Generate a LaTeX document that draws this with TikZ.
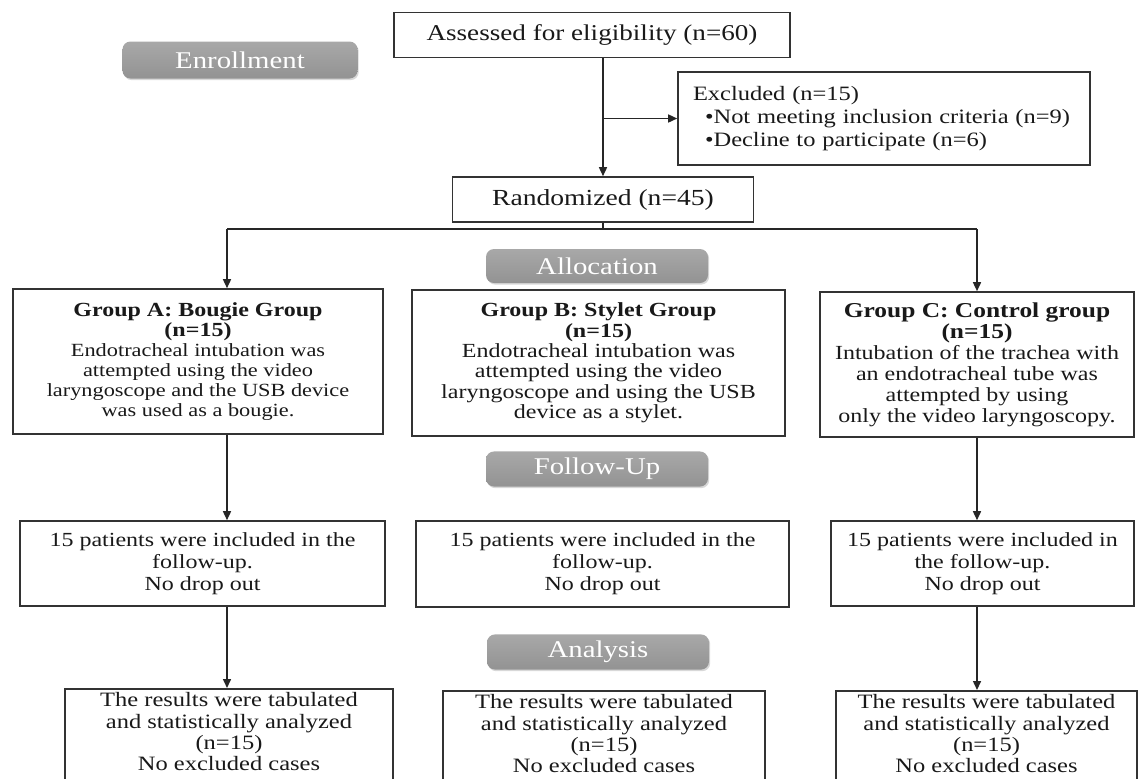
\documentclass[tikz,border=0pt]{standalone}
\usepackage{fontspec}
\setmainfont{Liberation Serif}[FakeStretch=1.2]
\usetikzlibrary{arrows.meta, positioning, shadows}
\newcommand{\grptitle}[2]{{\fontsize{#1}{#1}\selectfont\bfseries #2}}

\begin{document}
\begin{tikzpicture}[
  x=0.5pt, y=-0.5pt,
  font=\fontsize{10}{11}\selectfont,
  box/.style={draw=black!80, line width=0.8pt, align=center, inner sep=2pt, text=black!90},
  stage/.style={rounded corners=4pt, top color=gray!68, bottom color=gray!85, text=white,
    minimum width=111pt, minimum height=17pt, font=\fontsize{12}{12}\selectfont,
    drop shadow={opacity=0.3, shadow xshift=0.6pt, shadow yshift=-0.8pt}},
  arrow/.style={-{Triangle[length=4.5pt, width=4pt]}, line width=0.75pt, black!85},
  line/.style={line width=0.75pt, black!85}
]
  \useasboundingbox (0,0) rectangle (1139,778);
  \clip (0,0) rectangle (1139,778);
  \fill[white] (0,0) rectangle (1139,778);

  % stage labels
  \node[stage, minimum width=117.5pt, minimum height=18.5pt] (enroll) at (240,60) {Enrollment};
  \node[stage] (alloc) at (597,266) {Allocation};
  \node[stage] (follow) at (597,469) {Follow-Up};
  \node[stage] (analysis) at (598,652) {Analysis};

  % enrollment
  \node[box, minimum width=198pt, minimum height=22.5pt, font=\fontsize{11.3}{12}\selectfont]
    (assess) at (592,35) {Assessed for eligibility (n=60)};
  \node[box, minimum width=150.5pt, minimum height=22.5pt, font=\fontsize{11.5}{12}\selectfont]
    (rand) at (603,199.5) {Randomized (n=45)};
  \node[box, align=left, text width=191pt, inner xsep=7.5pt, minimum height=46.5pt,
    font=\fontsize{10.2}{11.5}\selectfont] (excl) at (884,118.5)
    {Excluded (n=15)\\\hspace*{6pt}•Not meeting inclusion criteria (n=9)\\\hspace*{6pt}•Decline to participate (n=6)};

  % allocation
  \node[box, minimum width=185pt, minimum height=72.5pt, font=\fontsize{9.3}{10}\selectfont] (grpA) at (198,361.5)
    {\grptitle{10}{Group A: Bougie Group}\\\grptitle{10}{(n=15)}\\Endotracheal intubation was\\attempted using the video\\laryngoscope and the USB device\\was used as a bougie.};
  \node[box, minimum width=186.5pt, minimum height=73pt, font=\fontsize{10}{10.2}\selectfont] (grpB) at (598.5,363)
    {\grptitle{10}{Group B: Stylet Group}\\\grptitle{10}{(n=15)}\\Endotracheal intubation was\\attempted using the video\\laryngoscope and using the USB\\device as a stylet.};
  \node[box, minimum width=157pt, minimum height=72.5pt, font=\fontsize{10}{10.5}\selectfont] (grpC) at (977,364.5)
    {\grptitle{10.6}{Group C: Control group}\\\grptitle{10.6}{(n=15)}\\Intubation of the trachea with\\an endotracheal tube was\\attempted by using\\only the video laryngoscopy.};

  % follow-up
  \node[box, minimum width=182.5pt, minimum height=42.5pt] (fuA) at (202.5,563.5)
    {15 patients were included in the\\follow-up.\\No drop out};
  \node[box, minimum width=186.5pt, minimum height=43pt] (fuB) at (602.5,564)
    {15 patients were included in the\\follow-up.\\No drop out};
  \node[box, minimum width=151.5pt, minimum height=42.5pt] (fuC) at (982.5,563.5)
    {15 patients were included in\\the follow-up.\\No drop out};

  % analysis
  \node[box, anchor=north, minimum width=164pt, text depth=45pt, font=\fontsize{10.2}{10.6}\selectfont] (resA) at (229,688)
    {The results were tabulated\\and statistically analyzed\\(n=15)\\No excluded cases};
  \node[box, anchor=north, minimum width=161pt, text depth=45pt, font=\fontsize{10.2}{10.6}\selectfont] (resB) at (604,690)
    {The results were tabulated\\and statistically analyzed\\(n=15)\\No excluded cases};
  \node[box, anchor=north, minimum width=150.5pt, text depth=45pt, font=\fontsize{10.2}{10.6}\selectfont] (resC) at (986.5,690)
    {The results were tabulated\\and statistically analyzed\\(n=15)\\No excluded cases};

  % connectors
  \coordinate (splitA) at (227,229);
  \coordinate (splitC) at (977,229);
  \draw[arrow] (rand.north |- assess.south) -- (rand.north);
  \draw[arrow] (rand.north |- excl.west) -- (excl.west);
  \draw[line] (rand.south) |- (splitA);
  \draw[line] (rand.south) |- (splitC);
  \draw[arrow] (splitA) -- (splitA |- grpA.north);
  \draw[arrow] (splitC) -- (grpC.north);
  \draw[arrow] (splitA |- grpA.south) -- (splitA |- fuA.north);
  \draw[arrow] (splitA |- fuA.south) -- (splitA |- resA.north);
  \draw[arrow] (grpC.south) -- (grpC.south |- fuC.north);
  \draw[arrow] (grpC.south |- fuC.south) -- (grpC.south |- resC.north);
\end{tikzpicture}
\end{document}
